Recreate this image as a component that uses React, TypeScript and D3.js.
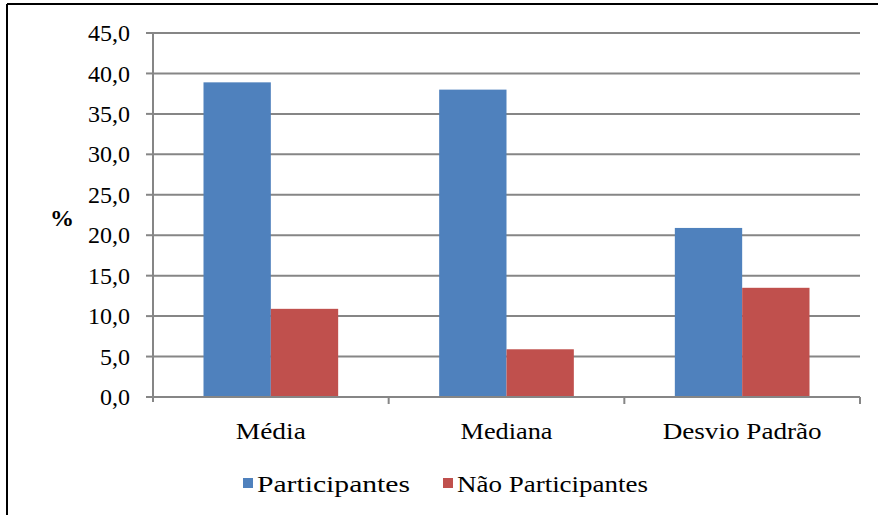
import React from "react";
import * as d3 from "d3";

const categories = ["Média", "Mediana", "Desvio Padrão"];
const seriesNames = ["Participantes", "Não Participantes"];
const participantes = [38.9, 38.0, 20.9];
const naoParticipantes = [10.9, 5.9, 13.5];
const yTicks = [0, 5, 10, 15, 20, 25, 30, 35, 40, 45];

const colors = ["#4F81BD", "#C0504D"];
const W = 878;
const H = 515;
const left = 153;
const right = 860;
const top = 33;
const bottom = 397;
const font =
  'Tinos, "Times New Roman", Times, "Liberation Serif", "Noto Serif", "DejaVu Serif", FreeSerif, serif';
const fs = 24;
// text widths of the category and legend labels
const catWidths = [70, 92, 159];
const legendWidths = [153, 191];

export default function App() {
  const x = d3.scaleBand<string>().domain(categories).range([left, right]).paddingInner(0).paddingOuter(0);
  const inner = d3
    .scaleBand<number>()
    .domain([0, 1])
    .range([0, x.bandwidth()])
    .paddingInner(0)
    .paddingOuter(0.75);
  const y = d3.scaleLinear().domain([0, 45]).range([bottom, top]);
  const series = [participantes, naoParticipantes];
  const fmt = (v: number) => v.toFixed(1).replace(".", ",");
  const grid = "#868686";
  const ts = { fontFamily: font, fontSize: fs, fill: "#000" } as React.CSSProperties;

  return (
    <svg
      width={W}
      height={H}
      style={{ position: "absolute", left: 0, top: 0, background: "#fff", fontFamily: font }}
    >
      {/* chart frame */}
      <line x1={7} x2={W} y1={4} y2={4} stroke="#000" strokeWidth={2} />
      <line x1={7} x2={7} y1={4} y2={H} stroke="#000" strokeWidth={2} />

      {/* gridlines and y ticks */}
      {yTicks.map((t) => (
        <g key={t}>
          {t > 0 && (
            <line x1={left} x2={right} y1={y(t)} y2={y(t)} stroke={grid} strokeWidth={2} />
          )}
          <line x1={left - 7} x2={left} y1={y(t)} y2={y(t)} stroke={grid} strokeWidth={2} />
          <text x={130} y={y(t)} dy="0.34em" textAnchor="end" style={ts}>
            {fmt(t)}
          </text>
        </g>
      ))}

      {/* bars */}
      {categories.map((c, i) =>
        series.map((s, k) => (
          <rect
            key={c + k}
            x={(x(c) ?? 0) + (inner(k) ?? 0)}
            y={y(s[i])}
            width={inner.bandwidth()}
            height={bottom - y(s[i])}
            fill={colors[k]}
          />
        ))
      )}

      {/* axes */}
      <line x1={left} x2={left} y1={top} y2={bottom + 5} stroke={grid} strokeWidth={2} />
      <line x1={left - 7} x2={right} y1={bottom} y2={bottom} stroke={grid} strokeWidth={2} />
      {categories.map((c) => (
        <line
          key={"t" + c}
          x1={(x(c) ?? 0) + x.bandwidth()}
          x2={(x(c) ?? 0) + x.bandwidth()}
          y1={bottom}
          y2={bottom + 7}
          stroke={grid}
          strokeWidth={2}
        />
      ))}
      {categories.map((c, i) => (
        <text
          key={"l" + c}
          x={(x(c) ?? 0) + x.bandwidth() / 2 - catWidths[i] / 2}
          y={439}
          textLength={catWidths[i]}
          lengthAdjust="spacingAndGlyphs"
          style={ts}
        >
          {c}
        </text>
      ))}

      {/* y axis title */}
      <text x={62} y={218} dy="0.34em" textAnchor="middle" style={{ ...ts, fontWeight: "bold" }}>
        %
      </text>

      {/* legend */}
      {seriesNames.map((n, k) => {
        const lx = [243, 443][k];
        return (
          <g key={n}>
            <rect x={lx} y={478} width={10} height={10} fill={colors[k]} />
            <text
              x={lx + 14}
              y={492}
              textLength={legendWidths[k]}
              lengthAdjust="spacingAndGlyphs"
              style={ts}
            >
              {n}
            </text>
          </g>
        );
      })}
    </svg>
  );
}
